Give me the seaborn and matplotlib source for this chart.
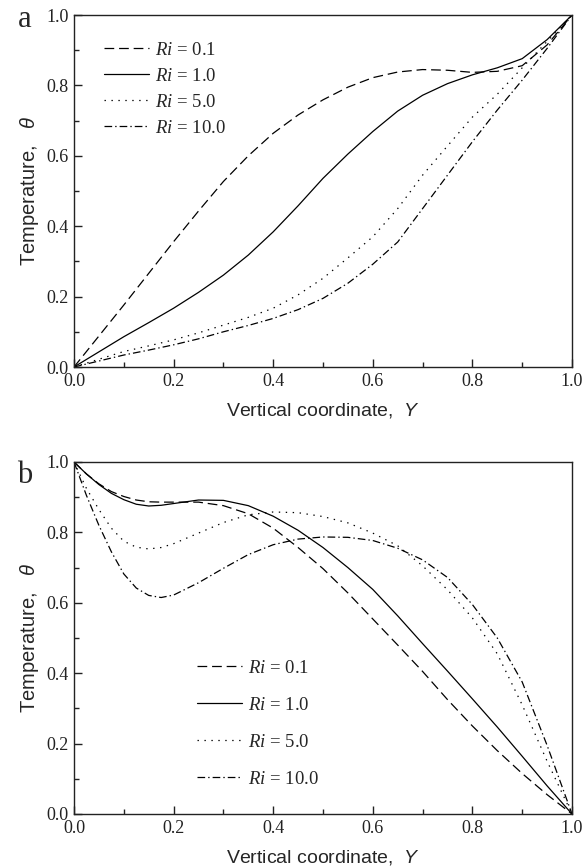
import pandas as pd
import seaborn as sns
import matplotlib.pyplot as plt
from matplotlib.ticker import MultipleLocator

# values
ri_labels = [r'$Ri$ = 0.1', r'$Ri$ = 1.0', r'$Ri$ = 5.0', r'$Ri$ = 10.0']

# panel a
y_a = [0.0, 0.05, 0.1, 0.15, 0.2, 0.25, 0.3, 0.35, 0.4, 0.45, 0.5,
       0.55, 0.6, 0.65, 0.7, 0.75, 0.8, 0.85, 0.9, 0.95, 1.0]
theta_a_01 = [0, 0.088, 0.176, 0.266, 0.356, 0.443, 0.527, 0.600, 0.664, 0.716, 0.759,
              0.795, 0.822, 0.838, 0.845, 0.843, 0.837, 0.840, 0.856, 0.915, 1.0]
theta_a_1 = [0, 0.043, 0.086, 0.126, 0.167, 0.212, 0.261, 0.318, 0.384, 0.458, 0.536,
             0.605, 0.669, 0.727, 0.772, 0.805, 0.830, 0.850, 0.876, 0.930, 1.0]
theta_a_5 = [0, 0.022, 0.044, 0.060, 0.077, 0.097, 0.119, 0.141, 0.167, 0.205, 0.252,
             0.310, 0.370, 0.450, 0.545, 0.628, 0.710, 0.775, 0.850, 0.925, 1.0]
theta_a_10 = [0, 0.017, 0.034, 0.048, 0.063, 0.080, 0.100, 0.118, 0.138, 0.163, 0.195,
              0.238, 0.292, 0.355, 0.450, 0.545, 0.640, 0.730, 0.815, 0.905, 1.0]

# panel b
y_b = [0.0, 0.025, 0.05, 0.075, 0.1, 0.125, 0.15, 0.175, 0.2, 0.25, 0.3, 0.35, 0.4,
       0.45, 0.5, 0.55, 0.6, 0.65, 0.7, 0.75, 0.8, 0.85, 0.9, 0.95, 1.0]
theta_b_01 = [1.0, 0.966, 0.938, 0.916, 0.902, 0.892, 0.887, 0.886, 0.886, 0.886, 0.876, 0.853, 0.812,
              0.757, 0.697, 0.628, 0.554, 0.480, 0.405, 0.325, 0.250, 0.180, 0.115, 0.055, 0.0]
theta_b_1 = [1.0, 0.966, 0.936, 0.911, 0.893, 0.880, 0.875, 0.877, 0.882, 0.892, 0.891, 0.876, 0.846,
             0.806, 0.757, 0.700, 0.638, 0.563, 0.484, 0.406, 0.327, 0.247, 0.164, 0.080, 0.0]
theta_b_5 = [1.0, 0.925, 0.865, 0.812, 0.775, 0.758, 0.753, 0.757, 0.768, 0.798, 0.828, 0.850, 0.858,
             0.856, 0.845, 0.827, 0.798, 0.762, 0.705, 0.637, 0.557, 0.455, 0.310, 0.150, 0.0]
theta_b_10 = [1.0, 0.905, 0.820, 0.745, 0.682, 0.642, 0.621, 0.615, 0.622, 0.657, 0.698, 0.737, 0.765,
              0.781, 0.787, 0.786, 0.777, 0.755, 0.722, 0.672, 0.595, 0.500, 0.375, 0.195, 0.0]

ticks = [0.0, 0.2, 0.4, 0.6, 0.8, 1.0]
tick_labels = ['0.0', '0.2', '0.4', '0.6', '0.8', '1.0']


def long_form(y, series):
    frames = []
    for lab, vals in zip(ri_labels, series):
        frames.append(pd.DataFrame({'Y': y, 'theta': vals, 'Ri': lab}))
    return pd.concat(frames, ignore_index=True)


df_a = long_form(y_a, [theta_a_01, theta_a_1, theta_a_5, theta_a_10])
df_b = long_form(y_b, [theta_b_01, theta_b_1, theta_b_5, theta_b_10])

sns.set_style('ticks')
plt.rcParams.update({
    'font.family': ['Liberation Serif', 'DejaVu Serif'],
    'mathtext.fontset': 'custom',
    'mathtext.rm': 'Liberation Serif',
    'mathtext.it': 'Liberation Serif:italic',
    'mathtext.sf': 'Liberation Sans:italic',
    'lines.scale_dashes': False,
    'axes.edgecolor': '#222222',
    'axes.linewidth': 1.0,
})

line_dashes = {ri_labels[0]: (7, 3.5), ri_labels[1]: '',
               ri_labels[2]: (1, 4), ri_labels[3]: (5.5, 2.2, 1, 2.2)}

fig = plt.figure(figsize=(5.86, 8.68), dpi=100)
W, H = 586, 868
ax_a = fig.add_axes([74 / W, 1 - 367 / H, 498 / W, 352 / H])
ax_b = fig.add_axes([74 / W, 1 - 814 / H, 498 / W, 352 / H])

legend_items = {}
for ax, df in [(ax_a, df_a), (ax_b, df_b)]:
    sns.lineplot(data=df, x='Y', y='theta', style='Ri', dashes=line_dashes,
                 color='black', linewidth=0.9, ax=ax, sort=False)
    ax.set_xlim(0, 1)
    ax.set_ylim(0, 1)
    ax.set_xticks(ticks)
    ax.set_xticklabels(tick_labels)
    ax.set_yticks(ticks)
    ax.set_yticklabels(tick_labels)
    ax.xaxis.set_minor_locator(MultipleLocator(0.1))
    ax.yaxis.set_minor_locator(MultipleLocator(0.1))
    ax.tick_params(which='both', direction='in', top=False, right=False,
                   labelsize=13, colors='#222222', pad=4)
    ax.tick_params(which='major', length=6, width=1)
    ax.tick_params(which='minor', length=3.5, width=1)
    ax.set_xlabel(r'Vertical coordinate,  $\mathsf{Y}$', family='Liberation Sans',
                  fontsize=14, labelpad=8)
    ax.set_ylabel(r'Temperature,   $\mathsf{\theta}$', family='Liberation Sans',
                  fontsize=14.5, labelpad=4)
    legend_items[ax] = ax.get_legend_handles_labels()
    ax.get_legend().remove()

h, l = legend_items[ax_a]
ax_a.legend(h, l, loc='upper left', bbox_to_anchor=(0.06, 0.924), frameon=False,
            fontsize=13.5, handlelength=2.4, handletextpad=0.3, labelspacing=0.47,
            borderpad=0, borderaxespad=0)
h, l = legend_items[ax_b]
ax_b.legend(h, l, loc='upper left', bbox_to_anchor=(0.247, 0.438), frameon=False,
            fontsize=13.5, handlelength=2.4, handletextpad=0.3, labelspacing=1.06,
            borderpad=0, borderaxespad=0)

fig.text(18 / W, 1 - 27 / H, 'a', fontsize=22, ha='left', va='baseline')
fig.text(17 / W, 1 - 483 / H, 'b', fontsize=22, ha='left', va='baseline')

fig.savefig('out.png', dpi=100)
